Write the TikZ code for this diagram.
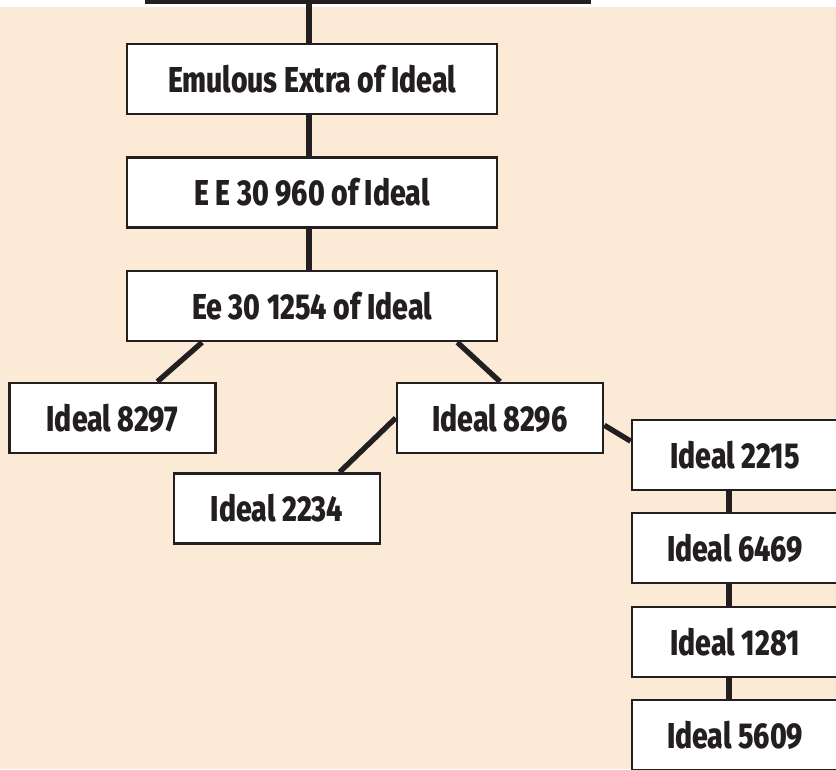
\documentclass[tikz,border=0pt]{standalone}
\usepackage{fontspec}
\newfontfamily\treefont{Fira Sans ExtraBold}[FakeStretch=0.79]
\usepackage{tikz}
\usetikzlibrary{calc, positioning}
\definecolor{ink}{HTML}{231F20}
\definecolor{paper}{HTML}{FAEAD6}

\begin{document}
\begin{tikzpicture}[x=0.75pt, y=-0.75pt,
    every node/.style={font=\treefont\fontsize{27}{29}\selectfont, inner sep=0pt},
    box/.style={draw=ink, line width=2pt, fill=white, text=ink, minimum height=52.5pt},
    wide/.style={box, minimum width=277.5pt},
    narrow/.style={box, minimum width=154.5pt},
    link/.style={draw=ink, line width=4pt}]
    \useasboundingbox (0,0) rectangle (836,769);
    \fill[white] (0,0) rectangle (836,769);
    \fill[paper] (0,7) rectangle (836,769);
    % main line
    \node[box, line width=3pt, minimum width=331.5pt, minimum height=54pt] (root) at (368,-34.5) {};
    \node[wide] (emul) at (312,79) {Emulous Extra of Ideal};
    \node[wide] (ee) at (312,192.5) {E E 30 960 of Ideal};
    \node[wide] (eeb) at (312,306) {Ee 30 1254 of Ideal};
    % branches
    \node[narrow] (i8297) at (112.5,418) {Ideal 8297};
    \node[narrow] (i8296) at (500,418) {Ideal 8296};
    \node[narrow] (i2234) at (277,508.5) {Ideal 2234};
    \foreach \n/\y in {2215/455, 6469/548, 1281/642, 5609/735} {
        \node[narrow] (i\n) at (735,\y) {Ideal \n};
    }
    \coordinate (trunk) at (309,0);
    \coordinate (spine) at (729,0);
    \draw[link] (root.south -| trunk) -- (emul.north -| trunk);
    \draw[link] (emul.south -| trunk) -- (ee.north -| trunk);
    \draw[link] (ee.south -| trunk) -- (eeb.north -| trunk);
    \draw[link] ($(eeb.south west)!0.205!(eeb.south east)$) -- ($(i8297.north west)!0.715!(i8297.north east)$);
    \draw[link] ($(eeb.south west)!0.89!(eeb.south east)$) -- (i8296.north);
    \draw[link] (i8296.west) -- ($(i2234.north west)!0.8!(i2234.north east)$);
    \draw[link] ($(i8296.north east)!0.6!(i8296.south east)$) -- ($(i2215.north west)!0.31!(i2215.south west)$);
    \foreach \a/\b in {i2215/i6469, i6469/i1281, i1281/i5609} {
        \draw[link] (\a.south -| spine) -- (\b.north -| spine);
    }
\end{tikzpicture}
\end{document}
